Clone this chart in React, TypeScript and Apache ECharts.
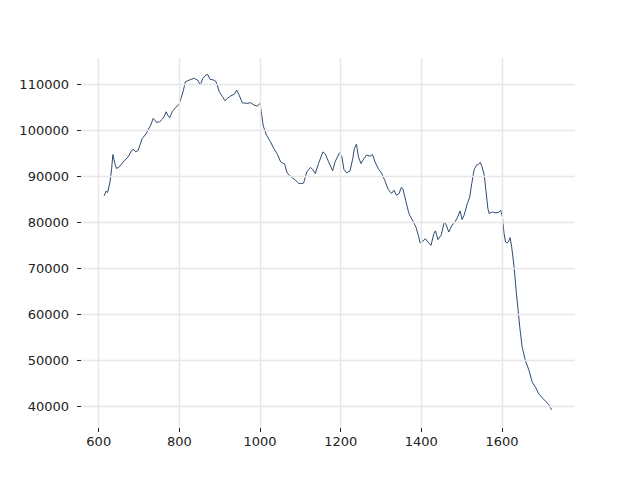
import React, { useEffect, useRef } from "react";
import * as echarts from "echarts";

const xValues = [613,618,622,628,632,635,640,644,651,661,673,680,685,692,698,702,708,718,722,729,735,739,743,751,758,762,767,771,776,782,790,799,804,810,815,821,829,837,845,852,858,866,870,876,885,891,899,907,913,919,928,936,942,948,956,967,977,985,993,1000,1003,1008,1016,1026,1034,1043,1051,1061,1067,1077,1088,1096,1100,1108,1116,1125,1130,1137,1145,1156,1162,1170,1180,1186,1197,1203,1208,1215,1223,1230,1234,1239,1244,1250,1258,1264,1273,1279,1285,1293,1301,1309,1318,1326,1332,1338,1345,1350,1354,1361,1367,1371,1379,1387,1393,1397,1404,1410,1416,1424,1431,1435,1441,1449,1457,1461,1468,1476,1482,1490,1496,1501,1506,1514,1520,1525,1531,1537,1542,1546,1550,1556,1560,1565,1568,1576,1585,1593,1597,1601,1605,1609,1613,1617,1620,1624,1630,1635,1640,1644,1650,1658,1667,1675,1683,1691,1700,1708,1716,1723];

const yValues = [85716,86740,86450,88760,91670,94700,92760,91670,92030,93110,94200,95290,95870,95290,95650,96740,98190,99280,100000,101090,102540,102170,101670,101810,102390,102900,103980,103260,102670,103980,104850,105590,106890,108700,110500,110720,111020,111240,110870,109780,111240,111960,112110,111020,110870,110500,108330,107240,106370,106890,107460,107760,108700,107610,105940,105800,105940,105440,105220,105800,103990,100870,98910,97460,96020,94780,93110,92610,90720,89850,89130,88410,88410,88500,90940,91890,91520,90590,92760,95290,94780,93110,91150,93110,95080,94200,91450,90720,91150,93850,96020,96960,94200,92760,93850,94570,94350,94720,93110,91670,90720,89130,87110,86240,86960,85870,86240,87540,87330,84780,82610,81520,80290,78850,76960,75500,75940,76450,75720,75000,77540,78130,76240,77170,80070,79570,77890,79350,79850,81150,82460,80580,81520,84060,85500,88410,91450,92390,92610,92980,92170,90220,86960,82970,81890,82240,82020,82240,82610,81150,77540,75720,75500,75940,76670,74650,70300,65220,60870,57240,52890,50000,47830,45280,44200,42760,41890,41160,40430,39280];

const xTicks = [600, 800, 1000, 1200, 1400, 1600];
const yTicks = [40000, 50000, 60000, 70000, 80000, 90000, 100000, 110000];

export default function App() {
  const ref = useRef<HTMLDivElement>(null);
  useEffect(() => {
    if (!ref.current) return;
    const chart = echarts.init(ref.current, null, { renderer: "svg" });
    const data = xValues.map((x, i) => [x, yValues[i]]);
    const gridColor = "#e6e6e6";
    const labelStyle = {
      color: "#222",
      fontFamily: "DejaVu Sans",
      fontSize: 13,
    };
    chart.setOption({
      animation: false,
      backgroundColor: "#ffffff",
      grid: { left: 81, right: 65, top: 58, bottom: 52 },
      xAxis: {
        type: "value",
        min: 556,
        max: 1781,
        axisLine: { show: false },
        splitLine: { show: false },
        axisTick: {
          show: true,
          customValues: xTicks,
          length: 4,
          lineStyle: { color: "#222", width: 1 },
        },
        axisLabel: {
          ...labelStyle,
          customValues: xTicks,
          margin: 7,
          formatter: (v: number) => String(v),
        },
      },
      yAxis: {
        type: "value",
        min: 35350,
        max: 115650,
        axisLine: { show: false },
        splitLine: { show: false },
        axisTick: {
          show: true,
          customValues: yTicks,
          length: 4,
          lineStyle: { color: "#222", width: 1 },
        },
        axisLabel: {
          ...labelStyle,
          customValues: yTicks,
          margin: 12,
          formatter: (v: number) => String(v),
        },
      },
      series: [
        {
          type: "line",
          data,
          z: 1,
          showSymbol: false,
          silent: true,
          lineStyle: { opacity: 0 },
          markLine: {
            silent: true,
            symbol: ["none", "none"],
            label: { show: false },
            lineStyle: { color: gridColor, width: 1.4, type: "solid" },
            data: [
              ...xTicks.map((v) => ({ xAxis: v })),
              ...yTicks.map((v) => ({ yAxis: v })),
            ],
          },
        },
        {
          type: "line",
          data,
          z: 2,
          showSymbol: false,
          symbol: "none",
          lineStyle: { color: "#2e4b6f", width: 1 },
        },
      ],
    });
    return () => chart.dispose();
  }, []);
  return <div ref={ref} style={{ width: 640, height: 480, margin: -8 }} />;
}
